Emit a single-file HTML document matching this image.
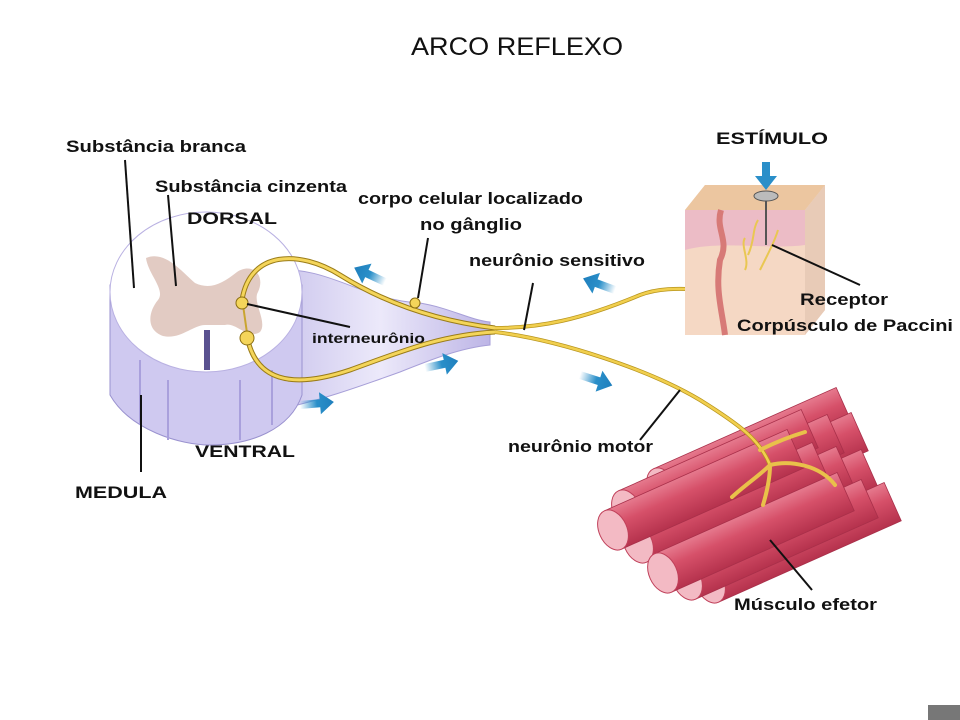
<!DOCTYPE html>
<html><head><style>
html,body{margin:0;padding:0;background:#fff;}
body{width:960px;height:720px;overflow:hidden;position:relative;font-family:"Liberation Sans",sans-serif;}
svg{position:absolute;left:0;top:0;}
text{font-family:"Liberation Sans",sans-serif;fill:#111;}
</style></head><body>
<svg width="960" height="720" viewBox="0 0 960 720">
<defs>
<linearGradient id="lav" x1="0" x2="1"><stop offset="0" stop-color="#c9c3ec"/><stop offset="0.5" stop-color="#ece9fa"/><stop offset="1" stop-color="#bdb5e6"/></linearGradient>
<linearGradient id="cyl" x1="0" y1="0" x2="0" y2="1"><stop offset="0" stop-color="#e67a8e"/><stop offset="0.4" stop-color="#d65069"/><stop offset="1" stop-color="#b5324d"/></linearGradient>
<linearGradient id="arr" x1="0" x2="1"><stop offset="0" stop-color="#2a8fc9" stop-opacity="0"/><stop offset="0.5" stop-color="#2a8fc9"/><stop offset="1" stop-color="#1f7fbd"/></linearGradient>
<g id="ar"><path d="M0,-4 L20,-4 L20,-11 L34,0 L20,11 L20,4 L0,4 Z" fill="url(#arr)"/></g>
<g id="cy"><rect x="0" y="-21" width="200" height="42" fill="url(#cyl)" stroke="#a8304a" stroke-width="0.8"/><ellipse cx="0" cy="0" rx="14" ry="21" fill="#f3bac4" stroke="#c0405a"/></g>
</defs>

<text x="411" y="55" font-size="25" textLength="212" lengthAdjust="spacingAndGlyphs">ARCO REFLEXO</text>

<!-- nerve -->
<path d="M270,270 C330,265 360,300 420,303 C450,308 470,320 490,322 L490,345 C460,348 430,360 400,372 C350,390 320,400 285,408 Z" fill="url(#lav)" stroke="#a79fd8"/>
<!-- spinal cord -->
<path d="M110,285 L110,395 C130,430 180,445 210,445 C250,445 290,430 302,395 L302,285 Z" fill="#cfc9f0" stroke="#9a92cf"/>
<path d="M140,360 L140,425 M168,380 L168,440 M240,380 L240,440 M272,370 L272,425" stroke="#a9a0dc" stroke-width="2"/>
<ellipse cx="206" cy="292" rx="96" ry="80" fill="#fff" stroke="#b9b1e2"/>
<path d="M146,258 C165,250 182,272 195,283 C210,290 222,284 237,272 C252,262 266,275 258,292 C252,302 268,322 260,332 C248,340 236,322 225,325 L205,325 C193,325 180,340 163,336 C146,330 148,312 158,300 C166,290 148,274 146,258 Z" fill="#dfc5bd" opacity="0.9"/>
<rect x="204" y="330" width="6" height="40" fill="#5a5290"/>
<!-- neurons -->
<path d="M242,300 C250,250 300,250 340,275 C380,300 430,320 495,328" fill="none" stroke="#9a7c18" stroke-width="5"/>
<path d="M242,300 C250,250 300,250 340,275 C380,300 430,320 495,328" fill="none" stroke="#f4d55a" stroke-width="3"/>
<path d="M247,336 C255,380 290,390 350,370 C400,352 440,335 495,332" fill="none" stroke="#9a7c18" stroke-width="5"/>
<path d="M247,336 C255,380 290,390 350,370 C400,352 440,335 495,332" fill="none" stroke="#f4d55a" stroke-width="3"/>
<path d="M243,305 L247,333" stroke="#c9a530" stroke-width="2"/>
<circle cx="242" cy="303" r="6" fill="#f4d55a" stroke="#8a6d10"/>
<circle cx="247" cy="338" r="7" fill="#f4d55a" stroke="#8a6d10"/>
<circle cx="415" cy="303" r="5" fill="#f4d55a" stroke="#8a6d10"/>
<path d="M495,328 C540,328 580,320 640,295 C680,280 720,300 750,280 C765,265 770,250 770,235" fill="none" stroke="#b8951e" stroke-width="4"/>
<path d="M495,328 C540,328 580,320 640,295 C680,280 720,300 750,280 C765,265 770,250 770,235" fill="none" stroke="#f1cf4e" stroke-width="2.5"/>

<!-- skin block -->
<path d="M685,210 L705,185 L825,185 L825,310 L805,335 L685,335 Z" fill="#f5d8c4"/>
<path d="M685,210 L705,185 L825,185 L805,210 Z" fill="#ecc6a0"/>
<path d="M805,210 L825,185 L825,310 L805,335 Z" fill="#e8cbb7"/>
<path d="M685,210 L805,210 L805,245 C770,250 720,240 685,250 Z" fill="#ecbcc6"/>
<path d="M721,210 C715,230 730,240 720,260 C715,290 722,310 725,335" fill="none" stroke="#d77a77" stroke-width="6"/>
<path d="M748,255 C755,240 752,230 758,220 M760,270 C770,250 775,240 778,230 M745,270 C750,260 740,245 745,238" fill="none" stroke="#e9c752" stroke-width="2"/>
<line x1="766" y1="195" x2="766" y2="245" stroke="#555" stroke-width="2"/>
<ellipse cx="766" cy="196" rx="12" ry="5" fill="#bbb" stroke="#555"/>
<path d="M762,162 L770,162 L770,176 L777,176 L766,190 L755,176 L762,176 Z" fill="#2a8fc9"/>

<!-- muscle (back to front) -->
<use href="#cy" transform="translate(662,488) rotate(-24)"/>
<use href="#cy" transform="translate(677,513) rotate(-24)"/>
<use href="#cy" transform="translate(653,515) rotate(-24)"/>
<use href="#cy" transform="translate(627,510) rotate(-24)"/>
<use href="#cy" transform="translate(687,550) rotate(-24)"/>
<use href="#cy" transform="translate(662,547) rotate(-24)"/>
<use href="#cy" transform="translate(638,543) rotate(-24)"/>
<use href="#cy" transform="translate(613,530) rotate(-24)"/>
<use href="#cy" transform="translate(710,583) rotate(-24)"/>
<use href="#cy" transform="translate(687,580) rotate(-24)"/>
<use href="#cy" transform="translate(663,573) rotate(-24)"/>
<!-- motor nerve -->
<path d="M495,332 C560,340 650,370 700,400 C740,425 760,440 770,465" fill="none" stroke="#b8951e" stroke-width="4"/>
<path d="M495,332 C560,340 650,370 700,400 C740,425 760,440 770,465" fill="none" stroke="#f1cf4e" stroke-width="2.5"/>
<path d="M760,450 C780,440 795,435 805,432 M770,465 C790,460 820,465 835,485 M770,465 C760,475 745,485 732,497 M770,465 C770,480 766,495 763,505" fill="none" stroke="#e9c14a" stroke-width="4" stroke-linecap="round"/>

<!-- arrows -->
<use href="#ar" transform="translate(385,282) rotate(205)"/>
<use href="#ar" transform="translate(615,290) rotate(200)"/>
<use href="#ar" transform="translate(425,368) rotate(-12)"/>
<use href="#ar" transform="translate(300,405) rotate(-5)"/>
<use href="#ar" transform="translate(580,375) rotate(18)"/>

<!-- leader lines -->
<g stroke="#111" stroke-width="2" fill="none">
<line x1="125" y1="160" x2="134" y2="288"/>
<line x1="168" y1="195" x2="176" y2="286"/>
<line x1="428" y1="238" x2="418" y2="298"/>
<line x1="247" y1="304" x2="350" y2="327"/>
<line x1="533" y1="283" x2="524" y2="330"/>
<line x1="772" y1="245" x2="860" y2="285"/>
<line x1="680" y1="390" x2="640" y2="440"/>
<line x1="141" y1="395" x2="141" y2="472"/>
<line x1="770" y1="540" x2="812" y2="590"/>
</g>

<g font-size="17" font-weight="bold" lengthAdjust="spacingAndGlyphs">
<text x="66" y="152" textLength="180" lengthAdjust="spacingAndGlyphs">Substância branca</text>
<text x="155" y="192" textLength="192" lengthAdjust="spacingAndGlyphs">Substância cinzenta</text>
<text x="187" y="224" textLength="90" lengthAdjust="spacingAndGlyphs">DORSAL</text>
<text x="358" y="204" textLength="225" lengthAdjust="spacingAndGlyphs">corpo celular localizado</text>
<text x="420" y="230" textLength="102" lengthAdjust="spacingAndGlyphs">no gânglio</text>
<text x="469" y="266" textLength="176" lengthAdjust="spacingAndGlyphs">neurônio sensitivo</text>
<text x="716" y="144" textLength="112" lengthAdjust="spacingAndGlyphs">ESTÍMULO</text>
<text x="800" y="305" textLength="88" lengthAdjust="spacingAndGlyphs">Receptor</text>
<text x="737" y="331" textLength="216" lengthAdjust="spacingAndGlyphs">Corpúsculo de Paccini</text>
<text x="312" y="343" font-size="14" textLength="113" lengthAdjust="spacingAndGlyphs">interneurônio</text>
<text x="195" y="457" textLength="100" lengthAdjust="spacingAndGlyphs">VENTRAL</text>
<text x="75" y="498" textLength="92" lengthAdjust="spacingAndGlyphs">MEDULA</text>
<text x="508" y="452" textLength="145" lengthAdjust="spacingAndGlyphs">neurônio motor</text>
<text x="734" y="610" textLength="143" lengthAdjust="spacingAndGlyphs">Músculo efetor</text>
</g>
<rect x="928" y="705" width="32" height="15" fill="#777"/>
</svg>
</body></html>
